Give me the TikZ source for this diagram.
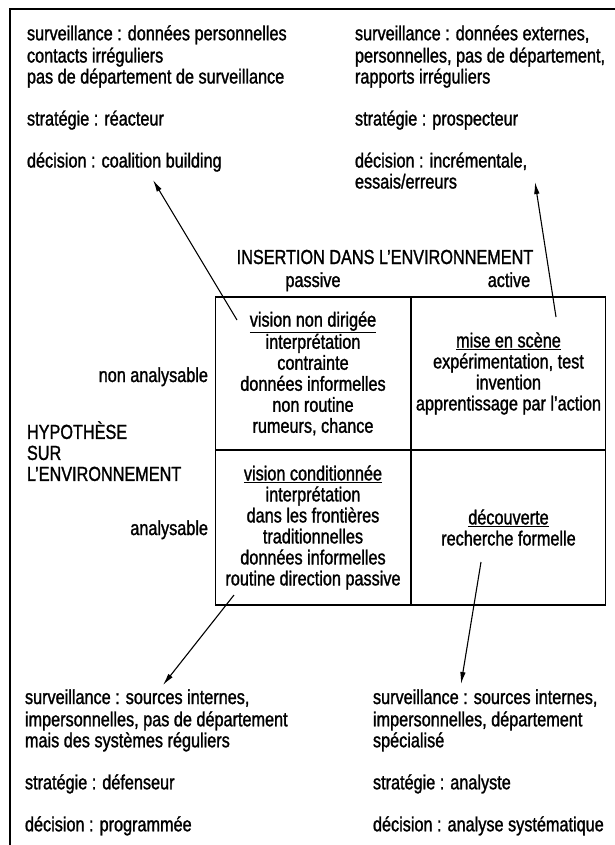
\documentclass[tikz,border=0pt]{standalone}
\usepackage{fontspec}
\setmainfont{Liberation Sans}[FakeStretch=0.80,FakeBold=1.3]
\usetikzlibrary{arrows.meta}
\begin{document}
\begin{tikzpicture}[x=1pt,y=-1pt,
  every node/.style={inner sep=0pt, outer sep=0pt, font=\fontsize{20.3}{21}\selectfont},
  block/.style={anchor=north west, align=left},
  lbl/.style={anchor=base},
  cell/.style={draw, line width=1.4pt, align=center, minimum width=195pt},
  ptr/.style={line width=1.1pt, -{Latex[length=12pt,width=5.5pt]}},
  frame/.style={line width=1.5pt}]
\useasboundingbox (0,0) rectangle (615,845);
% frame
\coordinate (fbl) at (10,845);
\coordinate (ftl) at (10,9);
\coordinate (ftr) at (615,9);
\draw[frame] (fbl) -- (ftl) -- (ftr);

% corner blocks (north = first baseline - 0.7*21pt)
\node[block] (tl) at (27,25.3) {\strut surveillance : données personnelles\\ contacts irréguliers\\ pas de département de surveillance\\[21pt] stratégie : réacteur\\[21pt] décision : coalition building};
\node[block] (tr) at (355,25.3) {\strut surveillance : données externes,\\ personnelles, pas de département,\\ rapports irréguliers\\[21pt] stratégie : prospecteur\\[21pt] décision : incrémentale,\\ essais/erreurs};
\node[block] (bl) at (25,689.3) {\strut surveillance : sources internes,\\ impersonnelles, pas de département\\ mais des systèmes réguliers\\[21pt] stratégie : défenseur\\[21pt] décision : programmée};
\node[block] (br) at (373,689.3) {\strut surveillance : sources internes,\\ impersonnelles, département\\ spécialisé\\[21pt] stratégie : analyste\\[21pt] décision : analyse systématique};

% axis labels
\node[lbl] (ins) at (385,264) {INSERTION DANS L’ENVIRONNEMENT};
\node[lbl] (pas) at (313,287) {passive};
\node[lbl] (act) at (509,287) {active};
\node[anchor=base east] (nan) at (208,382) {non analysable};
\node[anchor=base east] (ana) at (208,535) {analysable};
\node[block] (hyp) at (27,421.3) {\strut HYPOTHÈSE\\ SUR\\ L’ENVIRONNEMENT};

% grid cells
\node[cell, minimum height=153pt] (c1) at (313,373.5) {\underline{vision non dirigée}\\ interprétation\\ contrainte\\ données informelles\\ non routine\\ rumeurs, chance};
\node[cell, minimum height=153pt, minimum width=194pt] (c2) at (508.5,373.5) {\underline{mise en scène}\\ expérimentation, test\\ invention\\ apprentissage par l’action};
\node[cell, minimum height=155pt] (c3) at (313,527.5) {\underline{vision conditionnée}\\ interprétation\\ dans les frontières\\ traditionnelles\\ données informelles\\ routine direction passive};
\node[cell, minimum height=155pt, minimum width=194pt] (c4) at (508.5,527.5) {\underline{découverte}\\ recherche formelle};

% arrows
\coordinate (a1s) at (237,320); \coordinate (a1e) at (153,180);
\coordinate (a2s) at (556,317); \coordinate (a2e) at (535,182);
\coordinate (a3s) at (234,595); \coordinate (a3e) at (163,685);
\coordinate (a4s) at (481,562); \coordinate (a4e) at (461,684);
\draw[ptr] (a1s) -- (a1e);
\draw[ptr] (a2s) -- (a2e);
\draw[ptr] (a3s) -- (a3e);
\draw[ptr] (a4s) -- (a4e);
\end{tikzpicture}
\end{document}
